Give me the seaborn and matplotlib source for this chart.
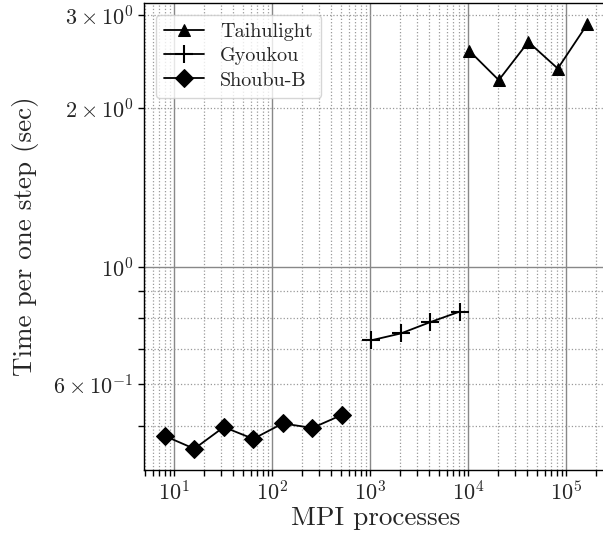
import matplotlib
matplotlib.use("Agg")
import matplotlib.pyplot as plt
import seaborn as sns
import pandas as pd
import numpy as np

# Data
taihu_x = [10240, 20480, 40960, 81920, 163840]
taihu_y = [2.569, 2.261, 2.671, 2.378, 2.885]
gyou_x = [1024, 2048, 4096, 8192]
gyou_y = [0.727, 0.749, 0.787, 0.824]
shoubu_x = [8, 16, 32, 64, 128, 256, 512]
shoubu_y = [0.479, 0.453, 0.498, 0.473, 0.506, 0.496, 0.525]

sns.set_style("ticks")
plt.rcParams['font.family'] = 'serif'
plt.rcParams['font.serif'] = ['cmr10']
plt.rcParams['mathtext.fontset'] = 'cm'
plt.rcParams['axes.formatter.use_mathtext'] = True
plt.rcParams['axes.unicode_minus'] = False

fig = plt.figure(figsize=(6.03, 5.35), dpi=100)
ax = fig.add_axes([143.7/603, 65/535, 464.7/603, 467/535])

sns.lineplot(x=taihu_x, y=taihu_y, ax=ax, color='black', marker='^', markersize=9,
             linewidth=1.3, label='Taihulight', markeredgecolor='black')
sns.lineplot(x=gyou_x, y=gyou_y, ax=ax, color='black', marker='+', markersize=13,
             markeredgewidth=1.5, linewidth=1.3, label='Gyoukou', markeredgecolor='black')
sns.lineplot(x=shoubu_x, y=shoubu_y, ax=ax, color='black', marker='D', markersize=9,
             linewidth=1.3, label='Shoubu-B', markeredgecolor='black')

ax.set_xscale('log')
ax.set_yscale('log')
ax.margins(0.05)

ax.grid(True, which='major', color='#888888', linestyle='-', linewidth=1.0)
ax.grid(True, which='minor', color='#999999', linestyle=':', linewidth=0.9)
ax.set_axisbelow(True)

ax.tick_params(which='both', direction='out', labelsize=16, width=1.0, color='black')
ax.tick_params(which='major', length=4)
ax.tick_params(which='minor', length=4)

for s in ax.spines.values():
    s.set_color('black')
    s.set_linewidth(1.0)

ax.set_xlabel('MPI processes', fontsize=19.5, labelpad=1)
ax.set_ylabel('Time per one step (sec)', fontsize=19.5, labelpad=10)

ax.legend(loc='upper left', fontsize=14.5, frameon=True, fancybox=True,
          edgecolor='#cccccc', framealpha=0.8, borderaxespad=0.6,
          labelspacing=0.3)

fig.savefig('out.png', dpi=100)
